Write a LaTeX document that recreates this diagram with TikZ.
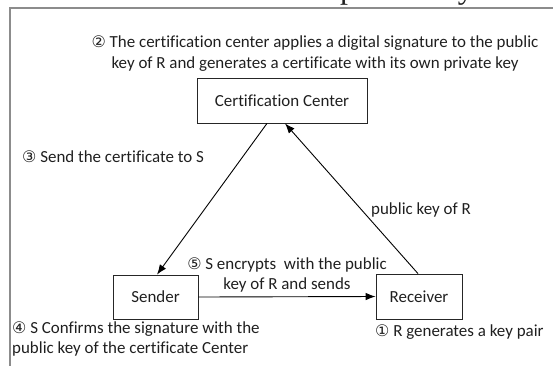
\documentclass[tikz,border=0pt]{standalone}
\usepackage{fontspec}
\setmainfont[Ligatures=NoCommon]{Carlito}
\newfontfamily\dvfont{DejaVu Sans}
\newfontfamily\serifhead{Liberation Serif}
\usetikzlibrary{arrows.meta}
\newcommand\cnum[1]{{\dvfont\fontsize{16}{16}\selectfont #1}}
\begin{document}
\begin{tikzpicture}[x=1bp,y=-1bp,
  every node/.style={font=\fontsize{17}{21}\selectfont, text=black!88},
  boxnode/.style={draw=black!85, line width=0.8bp, inner sep=0pt, align=center},
  lbl/.style={inner sep=0pt, align=center},
  arr/.style={draw=black, line width=0.9bp, -{Latex[length=10bp,width=7.5bp]}},
  frame/.style={draw=black!45, line width=1.3bp}]
\useasboundingbox (0,0) rectangle (553,365);
\begin{scope}
\clip (0,0) rectangle (553,7);
\node[anchor=base west, inner sep=0pt, font=\serifhead\fontsize{32}{32}\selectfont] (head) at (340,-2) {public key};
\end{scope}
\draw[frame] (10,370) -- (10,8) -- (560,8);
\node[boxnode, minimum width=170bp, minimum height=45bp] (cc) at (282,100.5) {Certification Center};
\node[boxnode, minimum width=85bp, minimum height=44bp] (snd) at (155.5,297) {Sender};
\node[boxnode, minimum width=86bp, minimum height=45bp] (rcv) at (419,296.5) {Receiver};
\draw[arr] ([xshift=-15bp]cc.south) -- ([xshift=1.5bp]snd.north);
\draw[arr] ([xshift=-1bp]rcv.north) -- ([xshift=3bp]cc.south);
\draw[arr] (snd.east) -- (rcv.west);
\node[lbl] (t2) at (315,54) {\cnum{②} The certification center applies a digital signature to the public\\key of R and generates a certificate with its own private key};
\node[lbl, anchor=west] (t3) at (22,157) {\cnum{③} Send the certificate to S};
\node[lbl, anchor=west] (tpk) at (371,210) {public key of R};
\node[lbl] (t5) at (287,275) {\cnum{⑤} S encrypts\ \ with the public\\key of R and sends};
\node[lbl, anchor=west, align=left] (t4) at (12,339) {\cnum{④} S Confirms the signature with the\\public key of the certificate Center};
\node[lbl, anchor=west] (t1) at (375,332) {\cnum{①} R generates a key pair};
\end{tikzpicture}
\end{document}
